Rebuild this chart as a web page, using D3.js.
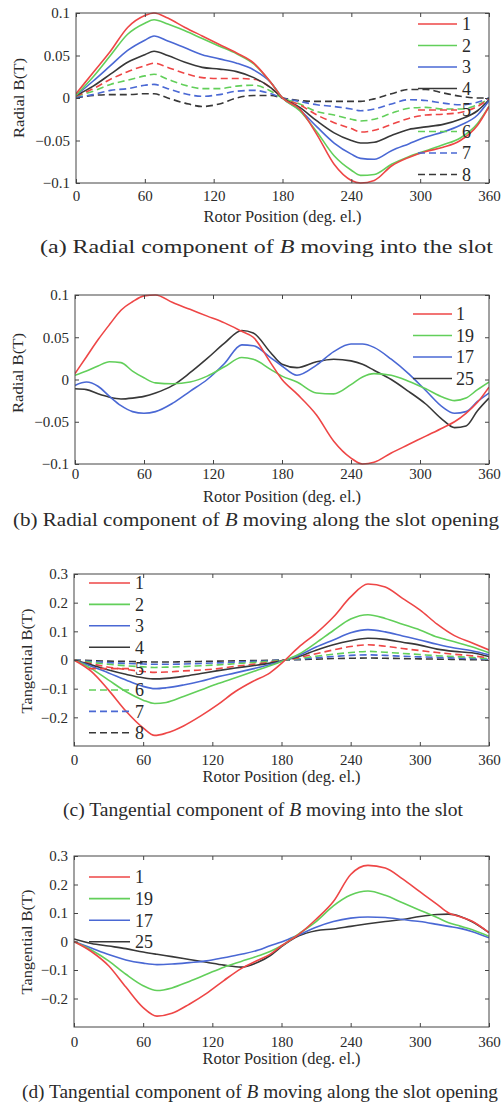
<!DOCTYPE html>
<html><head><meta charset="utf-8">
<script src="https://cdn.jsdelivr.net/npm/d3@7"></script>
<style>body{margin:0;background:#fff}svg{display:block}</style>
</head><body><svg id="c" width="501" height="1104"></svg>
<script>
// ---------- data ----------
const xTicks = [0, 60, 120, 180, 240, 300, 360];
const yTicksAB = [0.1, 0.05, 0, -0.05, -0.1];
const yTickLabelsAB = ["0.1", "0.05", "0", "\u22120.05", "\u22120.1"];
const yTicksCD = [0.3, 0.2, 0.1, 0, -0.1, -0.2];
const yTickLabelsCD = ["0.3", "0.2", "0.1", "0", "\u22120.1", "\u22120.2"];

const legendA = ["1", "2", "3", "4", "5", "6", "7", "8"];
const legendB = ["1", "19", "17", "25"];

// (a) radial, moving into the slot
const xA = [0,15,30,45,60,68,80,95,110,125,140,155,170,180,195,210,225,240,248,260,275,290,305,320,335,350,360];
const a1 = [0.005,0.03,0.055,0.083,0.097,0.1,0.094,0.083,0.073,0.063,0.053,0.041,0.018,0,-0.013,-0.043,-0.078,-0.097,-0.1,-0.097,-0.08,-0.07,-0.063,-0.058,-0.05,-0.032,-0.01];
const a2 = [0.003,0.025,0.05,0.075,0.088,0.092,0.087,0.079,0.07,0.061,0.052,0.04,0.018,0,-0.015,-0.04,-0.068,-0.085,-0.091,-0.09,-0.078,-0.069,-0.062,-0.055,-0.047,-0.03,-0.01];
const a3 = [0.003,0.02,0.038,0.056,0.068,0.073,0.067,0.059,0.051,0.046,0.041,0.033,0.018,0,-0.014,-0.034,-0.053,-0.066,-0.071,-0.072,-0.062,-0.054,-0.046,-0.04,-0.032,-0.02,-0.003];
const a4 = [0.003,0.014,0.028,0.042,0.051,0.055,0.05,0.042,0.036,0.034,0.031,0.024,0.012,0,-0.011,-0.027,-0.041,-0.05,-0.053,-0.052,-0.044,-0.037,-0.034,-0.031,-0.025,-0.015,-0.002];
const a5 = [0.002,0.011,0.022,0.031,0.038,0.041,0.036,0.029,0.024,0.023,0.023,0.022,0.012,0,-0.008,-0.02,-0.029,-0.036,-0.04,-0.038,-0.031,-0.024,-0.02,-0.019,-0.017,-0.01,-0.001];
const a6 = [0.002,0.008,0.016,0.021,0.026,0.028,0.022,0.015,0.011,0.011,0.014,0.015,0.008,0,-0.007,-0.016,-0.02,-0.025,-0.027,-0.025,-0.018,-0.012,-0.011,-0.013,-0.013,-0.008,-0.001];
const a7 = [0.001,0.004,0.009,0.011,0.015,0.016,0.011,0.005,0.002,0.004,0.008,0.009,0.005,0,-0.004,-0.008,-0.01,-0.013,-0.015,-0.013,-0.007,-0.002,-0.003,-0.006,-0.008,-0.005,0];
const a8 = [0,0.003,0.004,0.004,0.005,0.005,0,-0.006,-0.01,-0.007,0,0.003,0.003,0,-0.003,-0.004,-0.004,-0.004,-0.004,-0.001,0.005,0.01,0.01,0.006,0.002,0,0];

// (b) radial, moving along the slot opening
const xB = [0,10,20,30,40,50,60,70,85,100,115,130,145,155,170,180,193,210,225,240,250,260,275,290,305,320,330,340,350,360];
const b1  = [0.007,0.027,0.047,0.065,0.082,0.092,0.099,0.1,0.091,0.083,0.075,0.067,0.057,0.05,0.02,0,-0.017,-0.042,-0.073,-0.093,-0.1,-0.098,-0.087,-0.077,-0.067,-0.057,-0.05,-0.04,-0.027,-0.009];
const b19 = [0.005,0.01,0.016,0.021,0.02,0.01,0.002,-0.004,-0.005,-0.003,0.004,0.015,0.026,0.024,0.012,0.004,-0.003,-0.016,-0.017,-0.006,0.003,0.007,0.005,-0.002,-0.011,-0.021,-0.025,-0.022,-0.012,-0.003];
const b17 = [-0.007,-0.003,-0.008,-0.02,-0.031,-0.038,-0.04,-0.038,-0.028,-0.014,0,0.019,0.041,0.04,0.026,0.016,0.005,0.017,0.033,0.042,0.042,0.038,0.024,0.007,-0.013,-0.033,-0.04,-0.038,-0.026,-0.016];
const b25 = [-0.011,-0.012,-0.017,-0.021,-0.023,-0.022,-0.02,-0.016,-0.007,0.008,0.025,0.043,0.058,0.055,0.032,0.018,0.014,0.021,0.024,0.022,0.018,0.011,0,-0.014,-0.029,-0.048,-0.057,-0.055,-0.037,-0.022];

// (c) tangential, moving into the slot
const xC = [0,15,30,45,60,70,80,95,110,125,140,155,170,180,195,210,225,240,255,270,285,300,315,330,345,360];
const c1 = [0,-0.04,-0.105,-0.178,-0.237,-0.263,-0.255,-0.23,-0.195,-0.155,-0.11,-0.075,-0.045,-0.012,0.045,0.093,0.15,0.22,0.265,0.255,0.215,0.175,0.125,0.085,0.06,0.035];
const c2 = [0,-0.03,-0.07,-0.11,-0.14,-0.152,-0.148,-0.127,-0.105,-0.082,-0.062,-0.041,-0.02,-0.005,0.02,0.06,0.103,0.143,0.158,0.145,0.125,0.105,0.08,0.064,0.046,0.025];
const c3 = [0,-0.022,-0.045,-0.07,-0.092,-0.1,-0.097,-0.087,-0.074,-0.058,-0.045,-0.031,-0.016,-0.004,0.016,0.045,0.07,0.095,0.106,0.098,0.084,0.07,0.055,0.042,0.032,0.018];
const c4 = [0,-0.017,-0.035,-0.05,-0.062,-0.066,-0.064,-0.057,-0.047,-0.037,-0.028,-0.02,-0.011,-0.003,0.012,0.034,0.053,0.067,0.076,0.072,0.062,0.052,0.038,0.03,0.025,0.012];
const c5 = [0,-0.013,-0.025,-0.033,-0.04,-0.043,-0.042,-0.038,-0.035,-0.03,-0.022,-0.015,-0.008,-0.002,0.008,0.022,0.035,0.047,0.053,0.048,0.04,0.033,0.026,0.02,0.015,0.007];
const c6 = [0,-0.008,-0.015,-0.02,-0.024,-0.026,-0.025,-0.023,-0.02,-0.017,-0.013,-0.009,-0.005,-0.001,0.005,0.013,0.02,0.026,0.03,0.027,0.023,0.019,0.015,0.012,0.009,0.004];
const c7 = [0,-0.005,-0.009,-0.012,-0.014,-0.015,-0.015,-0.014,-0.012,-0.01,-0.008,-0.005,-0.003,0,0.003,0.008,0.012,0.016,0.018,0.016,0.013,0.011,0.009,0.007,0.005,0.002];
const c8 = [0,-0.002,-0.004,-0.005,-0.006,-0.007,-0.007,-0.006,-0.005,-0.004,-0.003,-0.002,-0.001,0,0.001,0.003,0.005,0.006,0.007,0.006,0.005,0.004,0.003,0.002,0.001,0];

// (d) tangential, moving along the slot opening
const xD = [0,15,30,45,60,72,85,100,115,130,145,160,170,180,195,210,225,240,255,270,285,300,315,325,335,345,360];
const d1  = [0,-0.035,-0.085,-0.16,-0.232,-0.262,-0.252,-0.22,-0.182,-0.137,-0.095,-0.065,-0.045,-0.015,0.025,0.078,0.14,0.235,0.267,0.258,0.22,0.175,0.13,0.1,0.087,0.072,0.031];
const d19 = [0,-0.03,-0.068,-0.115,-0.155,-0.172,-0.163,-0.14,-0.115,-0.09,-0.07,-0.05,-0.035,-0.015,0.027,0.07,0.125,0.163,0.177,0.162,0.136,0.11,0.084,0.066,0.054,0.042,0.018];
const d17 = [0,-0.023,-0.046,-0.065,-0.076,-0.081,-0.079,-0.074,-0.068,-0.057,-0.045,-0.03,-0.015,-0.002,0.023,0.05,0.07,0.082,0.086,0.084,0.077,0.07,0.06,0.053,0.046,0.035,0.013];
const d25 = [0.009,-0.007,-0.016,-0.025,-0.037,-0.045,-0.053,-0.063,-0.073,-0.083,-0.09,-0.072,-0.05,-0.018,0.02,0.038,0.044,0.053,0.062,0.07,0.077,0.088,0.095,0.096,0.088,0.07,0.031];

// ---------- styling ----------
const RED = "#ee4646", GREEN = "#62cf5a", BLUE = "#4a68d4", BLACK = "#383838";
const FONT = "'Liberation Serif','Times New Roman',Times,serif";
const TXT = "#2a2a2a";

const panels = [
  { xs: xA, series: [a1,a2,a3,a4,a5,a6,a7,a8], colors: [RED,GREEN,BLUE,BLACK,RED,GREEN,BLUE,BLACK],
    dashed: [0,0,0,0,1,1,1,1], labels: legendA,
    yDom: [-0.1, 0.1], yTicks: yTicksAB, yLabels: yTickLabelsAB,
    left: 76, right: 489, top: 13, bottom: 183, tickY: 196, titleY: 217, capY: 247,
    ylab: "Radial B(T)", ylabX: 19, ylabY: 98, ylabLen: 80,
    leg: { x1: 418, x2: 457, tx: 462, y0: 24, dy: 21.5 },
    cap: { pre: "(a) Radial component of ", post: " moving into the slot", x: 40, len: 453 } },
  { xs: xB, series: [b1,b19,b17,b25], colors: [RED,GREEN,BLUE,BLACK], dashed: [0,0,0,0], labels: legendB,
    yDom: [-0.1, 0.1], yTicks: yTicksAB, yLabels: yTickLabelsAB,
    left: 75, right: 489, top: 295, bottom: 464, tickY: 474, titleY: 497, capY: 520,
    ylab: "Radial B(T)", ylabX: 18, ylabY: 373, ylabLen: 80,
    leg: { x1: 413, x2: 452, tx: 456, y0: 314, dy: 21.5 },
    cap: { pre: "(b) Radial component of ", post: " moving along the slot opening", x: 13, len: 486 } },
  { xs: xC, series: [c1,c2,c3,c4,c5,c6,c7,c8], colors: [RED,GREEN,BLUE,BLACK,RED,GREEN,BLUE,BLACK],
    dashed: [0,0,0,0,1,1,1,1], labels: legendA,
    yDom: [-0.3, 0.3], yTicks: yTicksCD, yLabels: yTickLabelsCD,
    left: 74, right: 489, top: 574, bottom: 746, tickY: 760, titleY: 777, capY: 810,
    ylab: "Tangential B(T)", ylabX: 27, ylabY: 661, ylabLen: 105,
    leg: { x1: 89, x2: 130, tx: 135, y0: 583, dy: 21.4 },
    cap: { pre: "(c) Tangential component of ", post: " moving into the slot", x: 63, len: 400 } },
  { xs: xD, series: [d1,d19,d17,d25], colors: [RED,GREEN,BLUE,BLACK], dashed: [0,0,0,0], labels: legendB,
    yDom: [-0.3, 0.3], yTicks: yTicksCD, yLabels: yTickLabelsCD,
    left: 74, right: 489, top: 856, bottom: 1027, tickY: 1042, titleY: 1059, capY: 1092,
    ylab: "Tangential B(T)", ylabX: 27, ylabY: 942, ylabLen: 105,
    leg: { x1: 89, x2: 130, tx: 135, y0: 877, dy: 21.6 },
    cap: { pre: "(d) Tangential component of ", post: " moving along the slot opening", x: 22, len: 476 } }
];

const svg = d3.select("#c");

panels.forEach(p => {
  const x = d3.scaleLinear().domain([0, 360]).range([p.left, p.right]);
  const y = d3.scaleLinear().domain(p.yDom).range([p.bottom, p.top]);
  const g = svg.append("g");

  // curves
  const clipId = "clip" + p.top;
  g.append("clipPath").attr("id", clipId).append("rect")
    .attr("x", p.left).attr("y", p.top - 2).attr("width", p.right - p.left).attr("height", p.bottom - p.top + 4);
  const lg = g.append("g").attr("clip-path", `url(#${clipId})`);
  const order = d3.range(p.series.length).reverse();
  order.forEach(i => {
    const line = d3.line().x((d, k) => x(p.xs[k])).y(d => y(d)).curve(d3.curveMonotoneX);
    lg.append("path").attr("d", line(p.series[i]))
      .attr("fill", "none").attr("stroke", p.colors[i]).attr("stroke-width", 1.6)
      .attr("stroke-dasharray", p.dashed[i] ? "7,4" : null);
  });

  // axes (inward ticks on all four sides)
  const fmtY = v => p.yLabels[p.yTicks.indexOf(v)];
  const ax = [
    g.append("g").attr("transform", `translate(0,${p.bottom})`)
      .call(d3.axisBottom(x).tickValues(xTicks).tickFormat(d3.format("d")).tickSizeInner(-4).tickSizeOuter(0).tickPadding(p.tickY - p.bottom - 5.5)),
    g.append("g").attr("transform", `translate(0,${p.top})`)
      .call(d3.axisTop(x).tickValues(xTicks).tickFormat("").tickSizeInner(-4).tickSizeOuter(0)),
    g.append("g").attr("transform", `translate(${p.left},0)`)
      .call(d3.axisLeft(y).tickValues(p.yTicks).tickFormat(fmtY).tickSizeInner(-4).tickSizeOuter(0).tickPadding(6)),
    g.append("g").attr("transform", `translate(${p.right},0)`)
      .call(d3.axisRight(y).tickValues(p.yTicks).tickFormat("").tickSizeInner(-4).tickSizeOuter(0))
  ];
  ax.forEach(a => {
    a.select(".domain").remove();
    a.selectAll("line").attr("stroke", "#444");
    a.selectAll("text").attr("font-family", FONT).attr("font-size", 15).attr("fill", TXT);
  });

  g.append("rect").attr("x", p.left).attr("y", p.top).attr("width", p.right - p.left).attr("height", p.bottom - p.top)
    .attr("fill", "none").attr("stroke", "#444").attr("stroke-width", 1);

  // legend
  p.labels.forEach((lab, i) => {
    const yy = p.leg.y0 + i * p.leg.dy;
    g.append("line").attr("x1", p.leg.x1).attr("x2", p.leg.x2).attr("y1", yy).attr("y2", yy)
      .attr("stroke", p.colors[i]).attr("stroke-width", 1.6).attr("stroke-dasharray", p.dashed[i] ? "7,4" : null);
    g.append("text").attr("x", p.leg.tx).attr("y", yy).attr("dy", "0.35em")
      .attr("font-family", FONT).attr("font-size", 18).attr("fill", TXT).text(lab);
  });

  // axis titles
  g.append("text").attr("x", (p.left + p.right) / 2).attr("y", p.titleY).attr("dy", "0.33em")
    .attr("text-anchor", "middle").attr("font-family", FONT).attr("font-size", 16).attr("fill", TXT)
    .attr("textLength", 158).attr("lengthAdjust", "spacingAndGlyphs")
    .text("Rotor Position (deg. el.)");
  g.append("text").attr("transform", `translate(${p.ylabX},${p.ylabY}) rotate(-90)`).attr("dy", "0.33em")
    .attr("text-anchor", "middle").attr("font-family", FONT).attr("font-size", 15).attr("fill", TXT)
    .attr("textLength", p.ylabLen).attr("lengthAdjust", "spacingAndGlyphs")
    .text(p.ylab);

  // caption
  const cap = g.append("text").attr("x", p.cap.x).attr("y", p.capY).attr("dy", "0.33em")
    .attr("font-family", FONT).attr("font-size", 18).attr("fill", TXT)
    .attr("textLength", p.cap.len).attr("lengthAdjust", "spacingAndGlyphs");
  cap.append("tspan").text(p.cap.pre);
  cap.append("tspan").attr("font-style", "italic").text("B");
  cap.append("tspan").text(p.cap.post);
});
</script>
</body></html>
